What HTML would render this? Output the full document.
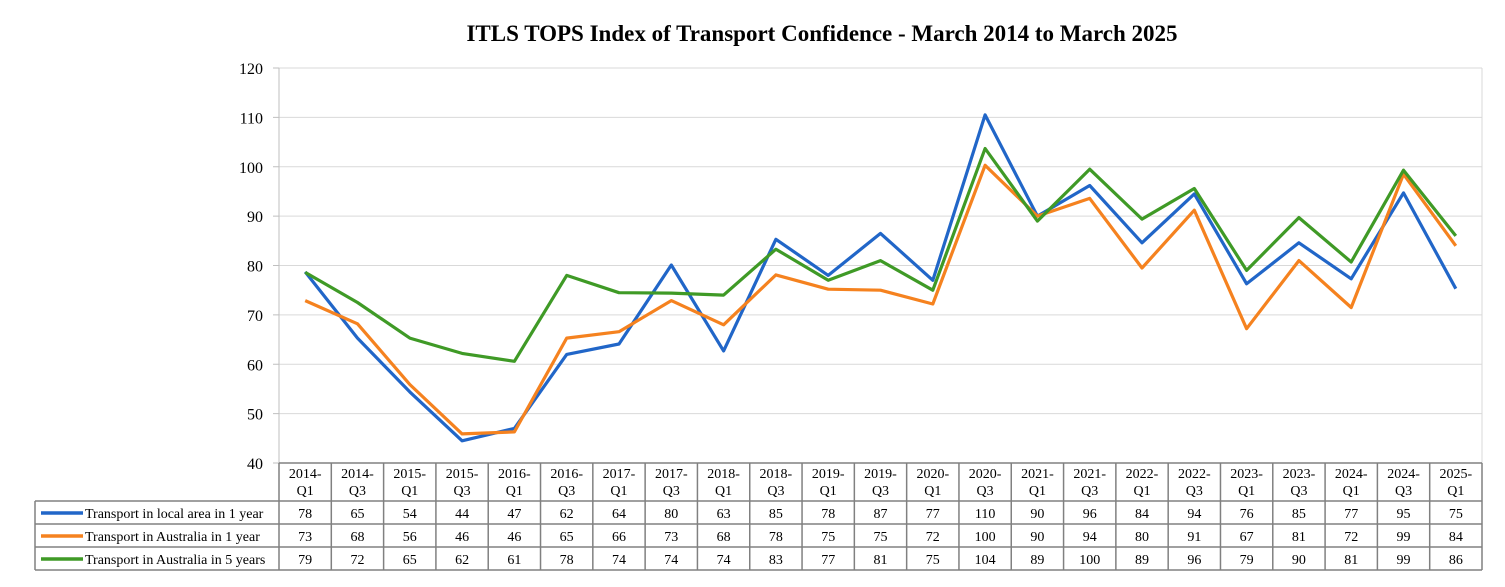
<!DOCTYPE html>
<html><head><meta charset="utf-8"><style>
body{margin:0;background:#fff;}
svg text{font-family:"Liberation Serif",serif;}
</style></head><body>
<svg id="s" width="1505" height="582" xmlns="http://www.w3.org/2000/svg">
<text x="822" y="41" text-anchor="middle" font-size="23" font-weight="bold">ITLS TOPS Index of Transport Confidence - March 2014 to March 2025</text>
<g id="g"></g>
</svg>
<script>
const g=document.getElementById('g');
const X0=279,X1=1482,N=23,W=(X1-X0)/N;
const yv=v=>463-(v-40)*4.9375;
let h='';
for(let v=40;v<=120;v+=10){const y=yv(v);
 if(v>40)h+=`<line x1="${X0}" y1="${y}" x2="${X1}" y2="${y}" stroke="#d9d9d9" stroke-width="1"/>`;
 h+=`<line x1="${X0-6}" y1="${y}" x2="${X0}" y2="${y}" stroke="#bfbfbf"/>`;
 h+=`<text x="${X0-16}" y="${y+6}" text-anchor="end" font-size="16">${v}</text>`;}
h+=`<line x1="${X0}" y1="68" x2="${X0}" y2="463" stroke="#bfbfbf"/>`;
h+=`<line x1="${X1}" y1="68" x2="${X1}" y2="463" stroke="#d9d9d9"/>`;
const labs=[];for(let y=2014;y<=2025;y++){labs.push(y+'-Q1');if(y<2025)labs.push(y+'-Q3');}
const S=[
{c:'#2166c8',n:'Transport in local area in 1 year',t:[78,65,54,44,47,62,64,80,63,85,78,87,77,110,90,96,84,94,76,85,77,95,75],
 p:[78.7,65.3,54.4,44.5,47,62,64.1,80.1,62.7,85.3,78,86.5,77,110.5,90,96.2,84.6,94.5,76.3,84.6,77.3,94.7,75.3]},
{c:'#f5821f',n:'Transport in Australia in 1 year',t:[73,68,56,46,46,65,66,73,68,78,75,75,72,100,90,94,80,91,67,81,72,99,84],
 p:[72.9,68.2,55.9,45.9,46.3,65.3,66.6,72.9,68,78.1,75.2,75,72.2,100.3,90,93.6,79.5,91.2,67.2,81,71.5,98.5,84]},
{c:'#3f9a26',n:'Transport in Australia in 5 years',t:[79,72,65,62,61,78,74,74,74,83,77,81,75,104,89,100,89,96,79,90,81,99,86],
 p:[78.6,72.5,65.3,62.2,60.6,78,74.5,74.4,74,83.3,77,81,75,103.7,89,99.5,89.4,95.6,79,89.7,80.7,99.3,86]}];
S.forEach(s=>{h+=`<polyline fill="none" stroke="${s.c}" stroke-width="3.2" stroke-linejoin="round" points="${s.p.map((v,i)=>(X0+W*(i+.5)).toFixed(1)+','+yv(v).toFixed(1)).join(' ')}"/>`;});
const st='stroke="#808080" stroke-width="1.5"';
const rows=[501,524,547,570];
h+=`<line x1="${X0}" y1="463" x2="${X1}" y2="463" ${st}/>`;
rows.forEach(y=>h+=`<line x1="35" y1="${y}" x2="${X1}" y2="${y}" ${st}/>`);
h+=`<line x1="35" y1="501" x2="35" y2="570" ${st}/>`;
for(let i=0;i<=N;i++){const x=X0+W*i;h+=`<line x1="${x}" y1="463" x2="${x}" y2="570" ${st}/>`;}
labs.forEach((l,i)=>{const x=X0+W*(i+.5);const [a,b]=l.split('-');
 h+=`<text x="${x}" y="478" text-anchor="middle" font-size="14">${a}-</text><text x="${x}" y="495" text-anchor="middle" font-size="14">${b}</text>`;});
S.forEach((s,r)=>{const y=rows[r]+17;
 h+=`<line x1="41" y1="${y-5}" x2="83" y2="${y-5}" stroke="${s.c}" stroke-width="3.5"/>`;
 h+=`<text x="85" y="${y}" font-size="14">${s.n}</text>`;
 s.t.forEach((v,i)=>h+=`<text x="${X0+W*(i+.5)}" y="${y}" text-anchor="middle" font-size="14">${v}</text>`);});
g.innerHTML=h;
</script>
</body></html>
